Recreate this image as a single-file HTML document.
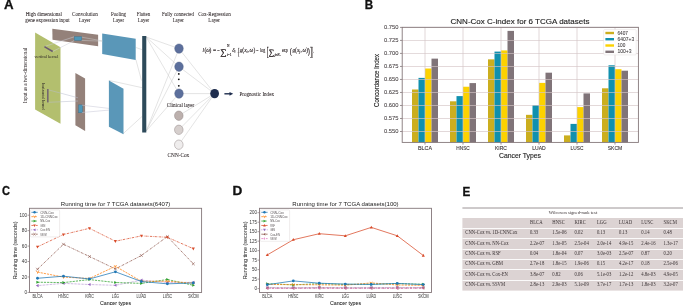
<!DOCTYPE html>
<html><head><meta charset="utf-8"><style>
html,body{margin:0;padding:0;background:#fff;}
body{width:685px;height:307px;overflow:hidden;}
svg{display:block;font-family:"Liberation Sans", sans-serif;will-change:transform;}
</style></head><body>
<svg width="685" height="307" viewBox="0 0 685 307" shape-rendering="auto">
<rect width="685" height="307" fill="#fff"/>
<text x="3.95" y="9.00" font-size="12.2" text-anchor="start" fill="#111" textLength="9.60" lengthAdjust="spacingAndGlyphs" font-weight="bold" stroke="#111" stroke-width="0.3">A</text>
<text x="364.85" y="9.00" font-size="12.2" text-anchor="start" fill="#111" textLength="8.40" lengthAdjust="spacingAndGlyphs" font-weight="bold" stroke="#111" stroke-width="0.3">B</text>
<text x="2.05" y="195.20" font-size="12.2" text-anchor="start" fill="#111" textLength="8.00" lengthAdjust="spacingAndGlyphs" font-weight="bold" stroke="#111" stroke-width="0.3">C</text>
<text x="232.45" y="195.10" font-size="12.2" text-anchor="start" fill="#111" textLength="9.80" lengthAdjust="spacingAndGlyphs" font-weight="bold" stroke="#111" stroke-width="0.3">D</text>
<text x="462.45" y="195.70" font-size="12.2" text-anchor="start" fill="#111" textLength="7.80" lengthAdjust="spacingAndGlyphs" font-weight="bold" stroke="#111" stroke-width="0.3">E</text>
<text x="43.80" y="16.00" font-size="5.6" text-anchor="middle" fill="#2a2224" stroke="#2a2224" stroke-width="0.04" font-family='"Liberation Serif", serif' textLength="36.30" lengthAdjust="spacingAndGlyphs">High dimensional</text>
<text x="47.50" y="22.20" font-size="5.6" text-anchor="middle" fill="#2a2224" stroke="#2a2224" stroke-width="0.04" font-family='"Liberation Serif", serif' textLength="44.30" lengthAdjust="spacingAndGlyphs">gene expression input</text>
<text x="85.00" y="16.00" font-size="5.6" text-anchor="middle" fill="#2a2224" stroke="#2a2224" stroke-width="0.04" font-family='"Liberation Serif", serif' textLength="25.80" lengthAdjust="spacingAndGlyphs">Convolution</text>
<text x="84.70" y="22.20" font-size="5.6" text-anchor="middle" fill="#2a2224" stroke="#2a2224" stroke-width="0.04" font-family='"Liberation Serif", serif' textLength="11.40" lengthAdjust="spacingAndGlyphs">Layer</text>
<text x="118.50" y="16.00" font-size="5.6" text-anchor="middle" fill="#2a2224" stroke="#2a2224" stroke-width="0.04" font-family='"Liberation Serif", serif' textLength="15.00" lengthAdjust="spacingAndGlyphs">Pooling</text>
<text x="118.50" y="22.20" font-size="5.6" text-anchor="middle" fill="#2a2224" stroke="#2a2224" stroke-width="0.04" font-family='"Liberation Serif", serif' textLength="11.00" lengthAdjust="spacingAndGlyphs">Layer</text>
<text x="143.50" y="16.00" font-size="5.6" text-anchor="middle" fill="#2a2224" stroke="#2a2224" stroke-width="0.04" font-family='"Liberation Serif", serif' textLength="13.30" lengthAdjust="spacingAndGlyphs">Flatten</text>
<text x="143.50" y="22.20" font-size="5.6" text-anchor="middle" fill="#2a2224" stroke="#2a2224" stroke-width="0.04" font-family='"Liberation Serif", serif' textLength="11.30" lengthAdjust="spacingAndGlyphs">Layer</text>
<text x="178.00" y="16.00" font-size="5.6" text-anchor="middle" fill="#2a2224" stroke="#2a2224" stroke-width="0.04" font-family='"Liberation Serif", serif' textLength="32.10" lengthAdjust="spacingAndGlyphs">Fully connected</text>
<text x="178.30" y="22.20" font-size="5.6" text-anchor="middle" fill="#2a2224" stroke="#2a2224" stroke-width="0.04" font-family='"Liberation Serif", serif' textLength="11.20" lengthAdjust="spacingAndGlyphs">Layer</text>
<text x="214.50" y="16.00" font-size="5.6" text-anchor="middle" fill="#2a2224" stroke="#2a2224" stroke-width="0.04" font-family='"Liberation Serif", serif' textLength="32.70" lengthAdjust="spacingAndGlyphs">Cox-Regression</text>
<text x="214.20" y="22.20" font-size="5.6" text-anchor="middle" fill="#2a2224" stroke="#2a2224" stroke-width="0.04" font-family='"Liberation Serif", serif' textLength="11.70" lengthAdjust="spacingAndGlyphs">Layer</text>
<line x1="146.20" y1="37.00" x2="179.00" y2="48.60" stroke="#c9c9c9" stroke-width="0.5"/>
<line x1="146.20" y1="131.00" x2="179.00" y2="48.60" stroke="#c9c9c9" stroke-width="0.5"/>
<line x1="146.20" y1="37.00" x2="179.00" y2="66.70" stroke="#c9c9c9" stroke-width="0.5"/>
<line x1="146.20" y1="131.00" x2="179.00" y2="66.70" stroke="#c9c9c9" stroke-width="0.5"/>
<line x1="146.20" y1="37.00" x2="179.00" y2="93.60" stroke="#c9c9c9" stroke-width="0.5"/>
<line x1="146.20" y1="131.00" x2="179.00" y2="93.60" stroke="#c9c9c9" stroke-width="0.5"/>
<line x1="179.00" y1="48.60" x2="214.60" y2="93.60" stroke="#c9c9c9" stroke-width="0.5"/>
<line x1="179.00" y1="66.70" x2="214.60" y2="93.60" stroke="#c9c9c9" stroke-width="0.5"/>
<line x1="179.00" y1="93.60" x2="214.60" y2="93.60" stroke="#c9c9c9" stroke-width="0.5"/>
<line x1="178.80" y1="115.70" x2="214.60" y2="93.60" stroke="#c9c9c9" stroke-width="0.5"/>
<line x1="178.80" y1="129.80" x2="214.60" y2="93.60" stroke="#c9c9c9" stroke-width="0.5"/>
<line x1="178.80" y1="144.70" x2="214.60" y2="93.60" stroke="#c9c9c9" stroke-width="0.5"/>
<line x1="135.90" y1="47.50" x2="142.20" y2="49.70" stroke="#c9c9c9" stroke-width="0.5"/>
<line x1="135.90" y1="59.70" x2="141.50" y2="80.50" stroke="#c9c9c9" stroke-width="0.5"/>
<line x1="108.90" y1="80.40" x2="142.20" y2="87.70" stroke="#c9c9c9" stroke-width="0.5"/>
<line x1="122.90" y1="133.90" x2="142.20" y2="116.30" stroke="#c9c9c9" stroke-width="0.5"/>
<polygon points="35.10,32.60 60.50,47.20 60.50,123.80 35.10,109.60" fill="#b3bf6e"/>
<polygon points="52.30,28.70 98.10,34.80 98.10,46.30 52.50,39.80" fill="#94817a"/>
<rect x="74.20" y="36.60" width="7.60" height="3.90" fill="#4e97b8" stroke="#3d6f88" stroke-width="0.4"/>
<polygon points="75.40,72.90 85.10,78.50 85.10,131.00 75.40,125.20" fill="#94817a"/>
<rect x="78.60" y="104.90" width="3.90" height="7.90" fill="#4e97b8" stroke="#3d6f88" stroke-width="0.4"/>
<polygon points="102.20,33.60 135.70,38.80 135.70,59.90 102.20,54.10" fill="#5a97b8"/>
<polygon points="108.90,80.50 123.50,88.70 123.50,134.20 108.90,126.80" fill="#5a97b8"/>
<rect x="142.20" y="36.00" width="4.10" height="96.50" fill="#2d4a5a"/>
<line x1="81.80" y1="37.20" x2="102.30" y2="40.90" stroke="#c9c9c9" stroke-width="0.5"/>
<line x1="81.80" y1="40.40" x2="102.30" y2="41.20" stroke="#c9c9c9" stroke-width="0.5"/>
<line x1="81.90" y1="105.20" x2="109.00" y2="108.40" stroke="#c4c4d4" stroke-width="0.5"/>
<line x1="81.90" y1="112.50" x2="109.00" y2="110.10" stroke="#c4c4d4" stroke-width="0.5"/>
<line x1="48.60" y1="89.90" x2="78.00" y2="97.80" stroke="#b8bccc" stroke-width="0.5"/>
<line x1="48.60" y1="102.30" x2="78.00" y2="101.00" stroke="#b8bccc" stroke-width="0.5"/>
<line x1="52.70" y1="51.50" x2="74.20" y2="40.60" stroke="#cfd0da" stroke-width="0.5"/>
<line x1="44.40" y1="46.60" x2="74.20" y2="36.80" stroke="#cfd0da" stroke-width="0.5"/>
<line x1="44.40" y1="46.60" x2="52.70" y2="51.50" stroke="#6a5a70" stroke-width="1.5"/>
<rect x="47.00" y="89.00" width="1.60" height="13.40" fill="#75686f"/>
<text x="46.50" y="57.60" font-size="4.2" text-anchor="middle" fill="#2a2224" font-family='"Liberation Serif", serif' textLength="24.00" lengthAdjust="spacingAndGlyphs">vertical kernel</text>
<text x="42.00" y="96.60" font-size="4.2" text-anchor="middle" fill="#2a2224" font-family='"Liberation Serif", serif' textLength="27.20" lengthAdjust="spacingAndGlyphs" transform="rotate(90 42.00 96.60)">horizontal kernel</text>
<text x="27.40" y="75.60" font-size="5.4" text-anchor="middle" fill="#2a2224" font-family='"Liberation Serif", serif' textLength="55.40" lengthAdjust="spacingAndGlyphs" transform="rotate(-90 27.40 75.60)">Input as a two-dimensional</text>
<ellipse cx="179" cy="48.6" rx="4.3" ry="4.7" fill="#5c6f9c" stroke="#4a5a80" stroke-width="0.4"/>
<ellipse cx="179" cy="66.7" rx="4.3" ry="4.7" fill="#5c6f9c" stroke="#4a5a80" stroke-width="0.4"/>
<ellipse cx="179" cy="93.6" rx="4.3" ry="4.7" fill="#5c6f9c" stroke="#4a5a80" stroke-width="0.4"/>
<circle cx="178.8" cy="73.9" r="0.9" fill="#111"/>
<circle cx="178.8" cy="79.3" r="0.9" fill="#111"/>
<circle cx="178.8" cy="85.8" r="0.9" fill="#111"/>
<text x="180.50" y="107.10" font-size="5.6" text-anchor="middle" fill="#2a2224" stroke="#2a2224" stroke-width="0.05" font-family='"Liberation Serif", serif' textLength="27.40" lengthAdjust="spacingAndGlyphs">Clinical layer</text>
<ellipse cx="178.8" cy="115.7" rx="4.3" ry="4.7" fill="#bcb0ad" stroke="#8a8080" stroke-width="0.45"/>
<ellipse cx="178.8" cy="129.8" rx="4.3" ry="4.7" fill="#d6cfcd" stroke="#8a8080" stroke-width="0.45"/>
<ellipse cx="178.8" cy="144.7" rx="4.3" ry="4.7" fill="#efeded" stroke="#8a8080" stroke-width="0.45"/>
<text x="178.40" y="156.90" font-size="5.6" text-anchor="middle" fill="#2a2224" stroke="#2a2224" stroke-width="0.05" font-family='"Liberation Serif", serif' textLength="21.70" lengthAdjust="spacingAndGlyphs">CNN-Cox</text>
<ellipse cx="214.6" cy="93.6" rx="4.4" ry="4.7" fill="#1e2d4d"/>
<line x1="224.40" y1="93.80" x2="230.80" y2="93.80" stroke="#1e2d4d" stroke-width="1.4"/>
<polygon points="229.50,91.90 233.20,93.80 229.50,95.70" fill="#1e2d4d"/>
<text x="256.70" y="95.60" font-size="5.6" text-anchor="middle" fill="#2a2224" stroke="#2a2224" stroke-width="0.05" font-family='"Liberation Serif", serif' textLength="34.50" lengthAdjust="spacingAndGlyphs">Prognostic Index</text>
<text x="202.60" y="52.20" font-size="5.4" text-anchor="start" fill="#2a2224" font-family='"Liberation Serif", serif' font-style="italic" stroke="#2a2224" stroke-width="0.12">l</text>
<text x="204.40" y="52.20" font-size="5.4" text-anchor="start" fill="#2a2224" font-family='"Liberation Serif", serif' stroke="#2a2224" stroke-width="0.12">(</text>
<text x="206.30" y="52.20" font-size="5.4" text-anchor="start" fill="#2a2224" font-family='"Liberation Serif", serif' font-style="italic" stroke="#2a2224" stroke-width="0.12">ω</text>
<text x="209.60" y="52.20" font-size="5.4" text-anchor="start" fill="#2a2224" font-family='"Liberation Serif", serif' stroke="#2a2224" stroke-width="0.12">)</text>
<text x="213.10" y="52.20" font-size="5.4" text-anchor="start" fill="#2a2224" font-family='"Liberation Serif", serif' textLength="3.10" lengthAdjust="spacingAndGlyphs" stroke="#2a2224" stroke-width="0.12">=</text>
<text x="217.10" y="52.20" font-size="5.4" text-anchor="start" fill="#2a2224" font-family='"Liberation Serif", serif' textLength="2.60" lengthAdjust="spacingAndGlyphs" stroke="#2a2224" stroke-width="0.12">−</text>
<text x="220.40" y="54.90" font-size="8.6" text-anchor="start" fill="#2a2224" font-family='"Liberation Serif", serif' textLength="6.30" lengthAdjust="spacingAndGlyphs" stroke="#2a2224" stroke-width="0.3">∑</text>
<text x="226.90" y="47.40" font-size="3.36" text-anchor="start" fill="#2a2224" font-family='"Liberation Serif", serif' stroke="#2a2224" stroke-width="0.12">N</text>
<text x="226.90" y="56.10" font-size="3.36" text-anchor="start" fill="#2a2224" font-family='"Liberation Serif", serif' textLength="4.60" lengthAdjust="spacingAndGlyphs" stroke="#2a2224" stroke-width="0.12">i=1</text>
<text x="232.30" y="52.20" font-size="5.2" text-anchor="start" fill="#2a2224" font-family='"Liberation Serif", serif' font-style="italic" stroke="#2a2224" stroke-width="0.12">δ</text>
<text x="234.50" y="53.20" font-size="3.36" text-anchor="start" fill="#2a2224" font-family='"Liberation Serif", serif' font-style="italic" stroke="#2a2224" stroke-width="0.12">i</text>
<text x="237.40" y="55.20" font-size="10.0" text-anchor="start" fill="#2a2224" font-family='"Liberation Serif", serif' textLength="2.00" lengthAdjust="spacingAndGlyphs" stroke="#2a2224" stroke-width="0.3">{</text>
<text x="239.80" y="52.20" font-size="5.4" text-anchor="start" fill="#2a2224" font-family='"Liberation Serif", serif' font-style="italic" stroke="#2a2224" stroke-width="0.12">g</text>
<text x="242.30" y="52.20" font-size="5.4" text-anchor="start" fill="#2a2224" font-family='"Liberation Serif", serif' stroke="#2a2224" stroke-width="0.12">(</text>
<text x="244.20" y="52.20" font-size="5.4" text-anchor="start" fill="#2a2224" font-family='"Liberation Serif", serif' font-style="italic" stroke="#2a2224" stroke-width="0.12">x</text>
<text x="246.60" y="53.20" font-size="3.36" text-anchor="start" fill="#2a2224" font-family='"Liberation Serif", serif' font-style="italic" stroke="#2a2224" stroke-width="0.12">i</text>
<text x="247.60" y="52.20" font-size="5.4" text-anchor="start" fill="#2a2224" font-family='"Liberation Serif", serif' stroke="#2a2224" stroke-width="0.12">,</text>
<text x="249.60" y="52.20" font-size="5.4" text-anchor="start" fill="#2a2224" font-family='"Liberation Serif", serif' font-style="italic" stroke="#2a2224" stroke-width="0.12">ω</text>
<text x="253.40" y="52.20" font-size="5.4" text-anchor="start" fill="#2a2224" font-family='"Liberation Serif", serif' stroke="#2a2224" stroke-width="0.12">)</text>
<text x="256.00" y="52.20" font-size="5.4" text-anchor="start" fill="#2a2224" font-family='"Liberation Serif", serif' textLength="2.40" lengthAdjust="spacingAndGlyphs" stroke="#2a2224" stroke-width="0.12">−</text>
<text x="260.20" y="52.20" font-size="5.4" text-anchor="start" fill="#2a2224" font-family='"Liberation Serif", serif' textLength="5.20" lengthAdjust="spacingAndGlyphs" stroke="#2a2224" stroke-width="0.12">log</text>
<text x="266.70" y="55.60" font-size="12.0" text-anchor="start" fill="#2a2224" font-family='"Liberation Serif", serif' textLength="1.80" lengthAdjust="spacingAndGlyphs" stroke="#2a2224" stroke-width="0.3">[</text>
<text x="268.70" y="54.90" font-size="8.0" text-anchor="start" fill="#2a2224" font-family='"Liberation Serif", serif' textLength="5.40" lengthAdjust="spacingAndGlyphs" stroke="#2a2224" stroke-width="0.3">∑</text>
<text x="274.40" y="55.80" font-size="3.36" text-anchor="start" fill="#2a2224" font-family='"Liberation Serif", serif' textLength="5.20" lengthAdjust="spacingAndGlyphs" font-style="italic" stroke="#2a2224" stroke-width="0.12">jєR</text>
<text x="279.70" y="56.40" font-size="2.64" text-anchor="start" fill="#2a2224" font-family='"Liberation Serif", serif' font-style="italic" stroke="#2a2224" stroke-width="0.12">i</text>
<text x="282.00" y="52.20" font-size="5.4" text-anchor="start" fill="#2a2224" font-family='"Liberation Serif", serif' textLength="5.70" lengthAdjust="spacingAndGlyphs" stroke="#2a2224" stroke-width="0.12">exp</text>
<text x="289.90" y="54.20" font-size="8.0" text-anchor="start" fill="#2a2224" font-family='"Liberation Serif", serif' textLength="1.70" lengthAdjust="spacingAndGlyphs" stroke="#2a2224" stroke-width="0.3">(</text>
<text x="292.50" y="52.20" font-size="5.4" text-anchor="start" fill="#2a2224" font-family='"Liberation Serif", serif' font-style="italic" stroke="#2a2224" stroke-width="0.12">g</text>
<text x="295.00" y="52.20" font-size="5.4" text-anchor="start" fill="#2a2224" font-family='"Liberation Serif", serif' stroke="#2a2224" stroke-width="0.12">(</text>
<text x="296.90" y="52.20" font-size="5.4" text-anchor="start" fill="#2a2224" font-family='"Liberation Serif", serif' font-style="italic" stroke="#2a2224" stroke-width="0.12">x</text>
<text x="299.30" y="53.20" font-size="3.36" text-anchor="start" fill="#2a2224" font-family='"Liberation Serif", serif' font-style="italic" stroke="#2a2224" stroke-width="0.12">j</text>
<text x="300.40" y="52.20" font-size="5.4" text-anchor="start" fill="#2a2224" font-family='"Liberation Serif", serif' stroke="#2a2224" stroke-width="0.12">,</text>
<text x="302.40" y="52.20" font-size="5.4" text-anchor="start" fill="#2a2224" font-family='"Liberation Serif", serif' font-style="italic" stroke="#2a2224" stroke-width="0.12">ω</text>
<text x="306.20" y="52.20" font-size="5.4" text-anchor="start" fill="#2a2224" font-family='"Liberation Serif", serif' stroke="#2a2224" stroke-width="0.12">)</text>
<text x="308.00" y="54.20" font-size="8.0" text-anchor="start" fill="#2a2224" font-family='"Liberation Serif", serif' textLength="1.70" lengthAdjust="spacingAndGlyphs" stroke="#2a2224" stroke-width="0.3">)</text>
<text x="310.20" y="55.60" font-size="12.0" text-anchor="start" fill="#2a2224" font-family='"Liberation Serif", serif' textLength="1.80" lengthAdjust="spacingAndGlyphs" stroke="#2a2224" stroke-width="0.3">]</text>
<text x="312.00" y="55.60" font-size="12.0" text-anchor="start" fill="#2a2224" font-family='"Liberation Serif", serif' textLength="1.60" lengthAdjust="spacingAndGlyphs" stroke="#2a2224" stroke-width="0.3">}</text>
<rect x="412.00" y="89.50" width="6.50" height="52.90" fill="#cbae1e"/>
<rect x="418.50" y="77.89" width="6.50" height="64.51" fill="#1090ae"/>
<rect x="425.00" y="68.52" width="6.50" height="73.88" fill="#fcd200"/>
<rect x="431.50" y="58.63" width="6.50" height="83.77" fill="#807479"/>
<rect x="450.00" y="101.31" width="6.50" height="41.09" fill="#cbae1e"/>
<rect x="456.50" y="96.11" width="6.50" height="46.29" fill="#1090ae"/>
<rect x="463.00" y="86.74" width="6.50" height="55.66" fill="#fcd200"/>
<rect x="469.50" y="83.09" width="6.50" height="59.31" fill="#807479"/>
<rect x="488.00" y="59.36" width="6.50" height="83.04" fill="#cbae1e"/>
<rect x="494.50" y="51.60" width="6.50" height="90.80" fill="#1090ae"/>
<rect x="501.00" y="50.41" width="6.50" height="91.99" fill="#fcd200"/>
<rect x="507.50" y="30.89" width="6.50" height="111.51" fill="#807479"/>
<rect x="526.00" y="114.84" width="6.50" height="27.56" fill="#cbae1e"/>
<rect x="532.50" y="105.11" width="6.50" height="37.29" fill="#1090ae"/>
<rect x="539.00" y="82.89" width="6.50" height="59.51" fill="#fcd200"/>
<rect x="545.50" y="72.68" width="6.50" height="69.72" fill="#807479"/>
<rect x="564.00" y="135.40" width="6.50" height="7.00" fill="#cbae1e"/>
<rect x="570.50" y="123.90" width="6.50" height="18.50" fill="#1090ae"/>
<rect x="577.00" y="107.09" width="6.50" height="35.31" fill="#fcd200"/>
<rect x="583.50" y="93.40" width="6.50" height="49.00" fill="#807479"/>
<rect x="602.00" y="88.30" width="6.50" height="54.10" fill="#cbae1e"/>
<rect x="608.50" y="65.29" width="6.50" height="77.11" fill="#1090ae"/>
<rect x="615.00" y="69.20" width="6.50" height="73.20" fill="#fcd200"/>
<rect x="621.50" y="70.71" width="6.50" height="71.69" fill="#807479"/>
<line x1="402.20" y1="131.50" x2="638.40" y2="131.50" stroke="#d4c5c7" stroke-width="0.8" opacity="0.85"/>
<line x1="402.20" y1="118.49" x2="638.40" y2="118.49" stroke="#d4c5c7" stroke-width="0.8" opacity="0.85"/>
<line x1="402.20" y1="105.47" x2="638.40" y2="105.47" stroke="#d4c5c7" stroke-width="0.8" opacity="0.85"/>
<line x1="402.20" y1="92.46" x2="638.40" y2="92.46" stroke="#d4c5c7" stroke-width="0.8" opacity="0.85"/>
<line x1="402.20" y1="79.45" x2="638.40" y2="79.45" stroke="#d4c5c7" stroke-width="0.8" opacity="0.85"/>
<line x1="402.20" y1="66.44" x2="638.40" y2="66.44" stroke="#d4c5c7" stroke-width="0.8" opacity="0.85"/>
<line x1="402.20" y1="53.42" x2="638.40" y2="53.42" stroke="#d4c5c7" stroke-width="0.8" opacity="0.85"/>
<line x1="402.20" y1="40.41" x2="638.40" y2="40.41" stroke="#d4c5c7" stroke-width="0.8" opacity="0.85"/>
<line x1="402.20" y1="27.40" x2="638.40" y2="27.40" stroke="#d4c5c7" stroke-width="0.8" opacity="0.85"/>
<line x1="425.00" y1="27.30" x2="425.00" y2="142.40" stroke="#d4c5c7" stroke-width="0.8" opacity="0.85"/>
<line x1="463.00" y1="27.30" x2="463.00" y2="142.40" stroke="#d4c5c7" stroke-width="0.8" opacity="0.85"/>
<line x1="501.00" y1="27.30" x2="501.00" y2="142.40" stroke="#d4c5c7" stroke-width="0.8" opacity="0.85"/>
<line x1="539.00" y1="27.30" x2="539.00" y2="142.40" stroke="#d4c5c7" stroke-width="0.8" opacity="0.85"/>
<line x1="577.00" y1="27.30" x2="577.00" y2="142.40" stroke="#d4c5c7" stroke-width="0.8" opacity="0.85"/>
<line x1="615.00" y1="27.30" x2="615.00" y2="142.40" stroke="#d4c5c7" stroke-width="0.8" opacity="0.85"/>
<rect x="603.7" y="29.6" width="32.5" height="25.3" rx="1" fill="#fff" fill-opacity="0.9" stroke="#e2dcdc" stroke-width="0.5"/>
<rect x="605.40" y="31.80" width="8.60" height="2.40" fill="#cbae1e"/>
<text x="617.40" y="34.50" font-size="4.5" text-anchor="start" fill="#3e3a3c" stroke="#3e3a3c" stroke-width="0.05" textLength="10.50" lengthAdjust="spacingAndGlyphs">6407</text>
<rect x="605.40" y="38.00" width="8.60" height="2.40" fill="#1090ae"/>
<text x="617.40" y="40.70" font-size="4.5" text-anchor="start" fill="#3e3a3c" stroke="#3e3a3c" stroke-width="0.05" textLength="16.80" lengthAdjust="spacingAndGlyphs">6407+3</text>
<rect x="605.40" y="44.30" width="8.60" height="2.40" fill="#fcd200"/>
<text x="617.40" y="47.00" font-size="4.5" text-anchor="start" fill="#3e3a3c" stroke="#3e3a3c" stroke-width="0.05" textLength="7.90" lengthAdjust="spacingAndGlyphs">100</text>
<rect x="605.40" y="50.60" width="8.60" height="2.40" fill="#807479"/>
<text x="617.40" y="53.30" font-size="4.5" text-anchor="start" fill="#3e3a3c" stroke="#3e3a3c" stroke-width="0.05" textLength="14.20" lengthAdjust="spacingAndGlyphs">100+3</text>
<rect x="402.2" y="27.3" width="236.20" height="115.10" fill="none" stroke="#84777a" stroke-width="0.9"/>
<line x1="400.00" y1="131.50" x2="402.20" y2="131.50" stroke="#84777a" stroke-width="0.8"/>
<text x="398.50" y="133.45" font-size="5.5" text-anchor="end" fill="#4a4446" stroke="#4a4446" stroke-width="0.08" textLength="14.60" lengthAdjust="spacingAndGlyphs">0.550</text>
<line x1="400.00" y1="118.49" x2="402.20" y2="118.49" stroke="#84777a" stroke-width="0.8"/>
<text x="398.50" y="120.44" font-size="5.5" text-anchor="end" fill="#4a4446" stroke="#4a4446" stroke-width="0.08" textLength="14.60" lengthAdjust="spacingAndGlyphs">0.575</text>
<line x1="400.00" y1="105.47" x2="402.20" y2="105.47" stroke="#84777a" stroke-width="0.8"/>
<text x="398.50" y="107.42" font-size="5.5" text-anchor="end" fill="#4a4446" stroke="#4a4446" stroke-width="0.08" textLength="14.60" lengthAdjust="spacingAndGlyphs">0.600</text>
<line x1="400.00" y1="92.46" x2="402.20" y2="92.46" stroke="#84777a" stroke-width="0.8"/>
<text x="398.50" y="94.41" font-size="5.5" text-anchor="end" fill="#4a4446" stroke="#4a4446" stroke-width="0.08" textLength="14.60" lengthAdjust="spacingAndGlyphs">0.625</text>
<line x1="400.00" y1="79.45" x2="402.20" y2="79.45" stroke="#84777a" stroke-width="0.8"/>
<text x="398.50" y="81.40" font-size="5.5" text-anchor="end" fill="#4a4446" stroke="#4a4446" stroke-width="0.08" textLength="14.60" lengthAdjust="spacingAndGlyphs">0.650</text>
<line x1="400.00" y1="66.44" x2="402.20" y2="66.44" stroke="#84777a" stroke-width="0.8"/>
<text x="398.50" y="68.39" font-size="5.5" text-anchor="end" fill="#4a4446" stroke="#4a4446" stroke-width="0.08" textLength="14.60" lengthAdjust="spacingAndGlyphs">0.675</text>
<line x1="400.00" y1="53.42" x2="402.20" y2="53.42" stroke="#84777a" stroke-width="0.8"/>
<text x="398.50" y="55.37" font-size="5.5" text-anchor="end" fill="#4a4446" stroke="#4a4446" stroke-width="0.08" textLength="14.60" lengthAdjust="spacingAndGlyphs">0.700</text>
<line x1="400.00" y1="40.41" x2="402.20" y2="40.41" stroke="#84777a" stroke-width="0.8"/>
<text x="398.50" y="42.36" font-size="5.5" text-anchor="end" fill="#4a4446" stroke="#4a4446" stroke-width="0.08" textLength="14.60" lengthAdjust="spacingAndGlyphs">0.725</text>
<line x1="400.00" y1="27.40" x2="402.20" y2="27.40" stroke="#84777a" stroke-width="0.8"/>
<text x="398.50" y="29.35" font-size="5.5" text-anchor="end" fill="#4a4446" stroke="#4a4446" stroke-width="0.08" textLength="14.60" lengthAdjust="spacingAndGlyphs">0.750</text>
<line x1="425.00" y1="142.40" x2="425.00" y2="144.60" stroke="#84777a" stroke-width="0.8"/>
<text x="425.00" y="149.90" font-size="5.5" text-anchor="middle" fill="#3a3436" stroke="#3a3436" stroke-width="0.1" textLength="14.00" lengthAdjust="spacingAndGlyphs">BLCA</text>
<line x1="463.00" y1="142.40" x2="463.00" y2="144.60" stroke="#84777a" stroke-width="0.8"/>
<text x="463.00" y="149.90" font-size="5.5" text-anchor="middle" fill="#3a3436" stroke="#3a3436" stroke-width="0.1" textLength="13.50" lengthAdjust="spacingAndGlyphs">HNSC</text>
<line x1="501.00" y1="142.40" x2="501.00" y2="144.60" stroke="#84777a" stroke-width="0.8"/>
<text x="501.00" y="149.90" font-size="5.5" text-anchor="middle" fill="#3a3436" stroke="#3a3436" stroke-width="0.1" textLength="12.00" lengthAdjust="spacingAndGlyphs">KIRC</text>
<line x1="539.00" y1="142.40" x2="539.00" y2="144.60" stroke="#84777a" stroke-width="0.8"/>
<text x="539.00" y="149.90" font-size="5.5" text-anchor="middle" fill="#3a3436" stroke="#3a3436" stroke-width="0.1" textLength="13.50" lengthAdjust="spacingAndGlyphs">LUAD</text>
<line x1="577.00" y1="142.40" x2="577.00" y2="144.60" stroke="#84777a" stroke-width="0.8"/>
<text x="577.00" y="149.90" font-size="5.5" text-anchor="middle" fill="#3a3436" stroke="#3a3436" stroke-width="0.1" textLength="12.80" lengthAdjust="spacingAndGlyphs">LUSC</text>
<line x1="615.00" y1="142.40" x2="615.00" y2="144.60" stroke="#84777a" stroke-width="0.8"/>
<text x="615.00" y="149.90" font-size="5.5" text-anchor="middle" fill="#3a3436" stroke="#3a3436" stroke-width="0.1" textLength="14.50" lengthAdjust="spacingAndGlyphs">SKCM</text>
<text x="520.00" y="24.00" font-size="7.3" text-anchor="middle" fill="#222" stroke="#222" stroke-width="0.12" textLength="139.00" lengthAdjust="spacingAndGlyphs">CNN-Cox C-index for 6 TCGA datasets</text>
<text x="520.00" y="158.20" font-size="7.1" text-anchor="middle" fill="#222" stroke="#222" stroke-width="0.12" textLength="42.10" lengthAdjust="spacingAndGlyphs">Cancer Types</text>
<text x="379.40" y="80.50" font-size="7.1" text-anchor="middle" fill="#222" stroke="#222" stroke-width="0.12" textLength="53.00" lengthAdjust="spacingAndGlyphs" transform="rotate(-90 379.40 80.50)">Concordance Index</text>
<polyline points="37.50,269.24 63.47,244.23 89.44,256.50 115.41,268.93 141.38,255.50 167.35,236.58 193.32,263.84" fill="none" stroke="#8c564b" stroke-width="0.75" stroke-dasharray="2.2,0.9,0.6,0.9" stroke-linejoin="round"/>
<line x1="36.10" y1="267.84" x2="38.90" y2="270.64" stroke="#8c564b" stroke-width="0.6"/>
<line x1="36.10" y1="270.64" x2="38.90" y2="267.84" stroke="#8c564b" stroke-width="0.6"/>
<line x1="62.07" y1="242.83" x2="64.87" y2="245.63" stroke="#8c564b" stroke-width="0.6"/>
<line x1="62.07" y1="245.63" x2="64.87" y2="242.83" stroke="#8c564b" stroke-width="0.6"/>
<line x1="88.04" y1="255.10" x2="90.84" y2="257.90" stroke="#8c564b" stroke-width="0.6"/>
<line x1="88.04" y1="257.90" x2="90.84" y2="255.10" stroke="#8c564b" stroke-width="0.6"/>
<line x1="114.01" y1="267.53" x2="116.81" y2="270.33" stroke="#8c564b" stroke-width="0.6"/>
<line x1="114.01" y1="270.33" x2="116.81" y2="267.53" stroke="#8c564b" stroke-width="0.6"/>
<line x1="139.98" y1="254.10" x2="142.78" y2="256.90" stroke="#8c564b" stroke-width="0.6"/>
<line x1="139.98" y1="256.90" x2="142.78" y2="254.10" stroke="#8c564b" stroke-width="0.6"/>
<line x1="165.95" y1="235.18" x2="168.75" y2="237.98" stroke="#8c564b" stroke-width="0.6"/>
<line x1="165.95" y1="237.98" x2="168.75" y2="235.18" stroke="#8c564b" stroke-width="0.6"/>
<line x1="191.92" y1="262.44" x2="194.72" y2="265.24" stroke="#8c564b" stroke-width="0.6"/>
<line x1="191.92" y1="265.24" x2="194.72" y2="262.44" stroke="#8c564b" stroke-width="0.6"/>
<polyline points="37.50,246.85 63.47,234.50 89.44,228.32 115.41,241.22 141.38,235.89 167.35,237.28 193.32,248.70" fill="none" stroke="#d84b2a" stroke-width="0.75" stroke-dasharray="2.2,0.9,0.6,0.9" stroke-linejoin="round"/>
<polygon points="37.50,248.53 39.04,245.73 35.96,245.73" fill="#d84b2a"/>
<polygon points="63.47,236.18 65.01,233.38 61.93,233.38" fill="#d84b2a"/>
<polygon points="89.44,230.00 90.98,227.20 87.90,227.20" fill="#d84b2a"/>
<polygon points="115.41,242.90 116.95,240.10 113.87,240.10" fill="#d84b2a"/>
<polygon points="141.38,237.57 142.92,234.77 139.84,234.77" fill="#d84b2a"/>
<polygon points="167.35,238.96 168.89,236.16 165.81,236.16" fill="#d84b2a"/>
<polygon points="193.32,250.38 194.86,247.58 191.78,247.58" fill="#d84b2a"/>
<polyline points="37.50,285.61 63.47,283.37 89.44,284.53 115.41,285.30 141.38,280.13 167.35,282.44 193.32,282.36" fill="none" stroke="#9467bd" stroke-width="0.75" stroke-dasharray="0.6,0.8" stroke-linejoin="round"/>
<polygon points="35.82,285.61 38.62,284.07 38.62,287.15" fill="#9467bd"/>
<polygon points="61.79,283.37 64.59,281.83 64.59,284.91" fill="#9467bd"/>
<polygon points="87.76,284.53 90.56,282.99 90.56,286.07" fill="#9467bd"/>
<polygon points="113.73,285.30 116.53,283.76 116.53,286.84" fill="#9467bd"/>
<polygon points="139.70,280.13 142.50,278.59 142.50,281.67" fill="#9467bd"/>
<polygon points="165.67,282.44 168.47,280.90 168.47,283.98" fill="#9467bd"/>
<polygon points="191.64,282.36 194.44,280.82 194.44,283.90" fill="#9467bd"/>
<polyline points="37.50,282.21 63.47,282.60 89.44,279.58 115.41,282.52 141.38,283.37 167.35,279.51 193.32,285.30" fill="none" stroke="#2ca02c" stroke-width="0.75" stroke-dasharray="2.2,1" stroke-linejoin="round"/>
<polygon points="39.18,282.21 36.38,280.67 36.38,283.75" fill="#2ca02c"/>
<polygon points="65.15,282.60 62.35,281.06 62.35,284.14" fill="#2ca02c"/>
<polygon points="91.12,279.58 88.32,278.04 88.32,281.12" fill="#2ca02c"/>
<polygon points="117.09,282.52 114.29,280.98 114.29,284.06" fill="#2ca02c"/>
<polygon points="143.06,283.37 140.26,281.83 140.26,284.91" fill="#2ca02c"/>
<polygon points="169.03,279.51 166.23,277.97 166.23,281.05" fill="#2ca02c"/>
<polygon points="195.00,285.30 192.20,283.76 192.20,286.84" fill="#2ca02c"/>
<polyline points="37.50,272.10 63.47,277.11 89.44,278.50 115.41,266.31 141.38,281.28 167.35,281.28 193.32,283.14" fill="none" stroke="#ff7f0e" stroke-width="0.75" stroke-dasharray="2.2,1" stroke-linejoin="round"/>
<line x1="37.50" y1="272.10" x2="37.50" y2="273.78" stroke="#ff7f0e" stroke-width="0.6"/>
<line x1="37.50" y1="272.10" x2="35.96" y2="271.12" stroke="#ff7f0e" stroke-width="0.6"/>
<line x1="37.50" y1="272.10" x2="39.04" y2="271.12" stroke="#ff7f0e" stroke-width="0.6"/>
<line x1="63.47" y1="277.11" x2="63.47" y2="278.79" stroke="#ff7f0e" stroke-width="0.6"/>
<line x1="63.47" y1="277.11" x2="61.93" y2="276.13" stroke="#ff7f0e" stroke-width="0.6"/>
<line x1="63.47" y1="277.11" x2="65.01" y2="276.13" stroke="#ff7f0e" stroke-width="0.6"/>
<line x1="89.44" y1="278.50" x2="89.44" y2="280.18" stroke="#ff7f0e" stroke-width="0.6"/>
<line x1="89.44" y1="278.50" x2="87.90" y2="277.52" stroke="#ff7f0e" stroke-width="0.6"/>
<line x1="89.44" y1="278.50" x2="90.98" y2="277.52" stroke="#ff7f0e" stroke-width="0.6"/>
<line x1="115.41" y1="266.31" x2="115.41" y2="267.99" stroke="#ff7f0e" stroke-width="0.6"/>
<line x1="115.41" y1="266.31" x2="113.87" y2="265.33" stroke="#ff7f0e" stroke-width="0.6"/>
<line x1="115.41" y1="266.31" x2="116.95" y2="265.33" stroke="#ff7f0e" stroke-width="0.6"/>
<line x1="141.38" y1="281.28" x2="141.38" y2="282.96" stroke="#ff7f0e" stroke-width="0.6"/>
<line x1="141.38" y1="281.28" x2="139.84" y2="280.30" stroke="#ff7f0e" stroke-width="0.6"/>
<line x1="141.38" y1="281.28" x2="142.92" y2="280.30" stroke="#ff7f0e" stroke-width="0.6"/>
<line x1="167.35" y1="281.28" x2="167.35" y2="282.96" stroke="#ff7f0e" stroke-width="0.6"/>
<line x1="167.35" y1="281.28" x2="165.81" y2="280.30" stroke="#ff7f0e" stroke-width="0.6"/>
<line x1="167.35" y1="281.28" x2="168.89" y2="280.30" stroke="#ff7f0e" stroke-width="0.6"/>
<line x1="193.32" y1="283.14" x2="193.32" y2="284.82" stroke="#ff7f0e" stroke-width="0.6"/>
<line x1="193.32" y1="283.14" x2="191.78" y2="282.16" stroke="#ff7f0e" stroke-width="0.6"/>
<line x1="193.32" y1="283.14" x2="194.86" y2="282.16" stroke="#ff7f0e" stroke-width="0.6"/>
<polyline points="37.50,278.27 63.47,276.19 89.44,278.97 115.41,271.79 141.38,281.51 167.35,283.83 193.32,282.98" fill="none" stroke="#1f77b4" stroke-width="0.75" stroke-linejoin="round"/>
<circle cx="37.50" cy="278.27" r="1.4" fill="#1f77b4"/>
<circle cx="63.47" cy="276.19" r="1.4" fill="#1f77b4"/>
<circle cx="89.44" cy="278.97" r="1.4" fill="#1f77b4"/>
<circle cx="115.41" cy="271.79" r="1.4" fill="#1f77b4"/>
<circle cx="141.38" cy="281.51" r="1.4" fill="#1f77b4"/>
<circle cx="167.35" cy="283.83" r="1.4" fill="#1f77b4"/>
<circle cx="193.32" cy="282.98" r="1.4" fill="#1f77b4"/>
<rect x="30.4" y="209.9" width="29.2" height="27.0" rx="0.8" fill="#fff" fill-opacity="0.85" stroke="#e0dada" stroke-width="0.5"/>
<line x1="31.40" y1="212.30" x2="37.70" y2="212.30" stroke="#1f77b4" stroke-width="0.75"/>
<circle cx="34.55" cy="212.30" r="1.2" fill="#1f77b4"/>
<text x="40.30" y="213.70" font-size="4.0" text-anchor="start" fill="#5a5456" textLength="13.60" lengthAdjust="spacingAndGlyphs">CNN-Cox</text>
<line x1="31.40" y1="216.68" x2="37.70" y2="216.68" stroke="#ff7f0e" stroke-width="0.75" stroke-dasharray="2.2,1"/>
<line x1="34.55" y1="216.68" x2="34.55" y2="218.12" stroke="#ff7f0e" stroke-width="0.6"/>
<line x1="34.55" y1="216.68" x2="33.23" y2="215.84" stroke="#ff7f0e" stroke-width="0.6"/>
<line x1="34.55" y1="216.68" x2="35.87" y2="215.84" stroke="#ff7f0e" stroke-width="0.6"/>
<text x="40.30" y="218.08" font-size="4.0" text-anchor="start" fill="#5a5456" textLength="17.40" lengthAdjust="spacingAndGlyphs">1D-CNNCox</text>
<line x1="31.40" y1="221.06" x2="37.70" y2="221.06" stroke="#2ca02c" stroke-width="0.75" stroke-dasharray="2.2,1"/>
<polygon points="35.99,221.06 33.59,219.74 33.59,222.38" fill="#2ca02c"/>
<text x="40.30" y="222.46" font-size="4.0" text-anchor="start" fill="#5a5456" textLength="9.72" lengthAdjust="spacingAndGlyphs">NN-Cox</text>
<line x1="31.40" y1="225.44" x2="37.70" y2="225.44" stroke="#d84b2a" stroke-width="0.75" stroke-dasharray="2.2,0.9,0.6,0.9"/>
<polygon points="34.55,226.88 35.87,224.48 33.23,224.48" fill="#d84b2a"/>
<text x="40.30" y="226.84" font-size="4.0" text-anchor="start" fill="#5a5456" textLength="4.86" lengthAdjust="spacingAndGlyphs">GBM</text>
<line x1="31.40" y1="229.82" x2="37.70" y2="229.82" stroke="#9467bd" stroke-width="0.75" stroke-dasharray="0.6,0.8"/>
<polygon points="33.11,229.82 35.51,228.50 35.51,231.14" fill="#9467bd"/>
<text x="40.30" y="231.22" font-size="4.0" text-anchor="start" fill="#5a5456" textLength="9.72" lengthAdjust="spacingAndGlyphs">Cox EN</text>
<line x1="31.40" y1="234.20" x2="37.70" y2="234.20" stroke="#8c564b" stroke-width="0.75" stroke-dasharray="2.2,0.9,0.6,0.9"/>
<line x1="33.35" y1="233.00" x2="35.75" y2="235.40" stroke="#8c564b" stroke-width="0.6"/>
<line x1="33.35" y1="235.40" x2="35.75" y2="233.00" stroke="#8c564b" stroke-width="0.6"/>
<text x="40.30" y="235.60" font-size="4.0" text-anchor="start" fill="#5a5456" textLength="6.48" lengthAdjust="spacingAndGlyphs">SSVM</text>
<rect x="29.5" y="208.3" width="172.10" height="84.20" fill="none" stroke="#84777a" stroke-width="0.9"/>
<line x1="27.50" y1="292.40" x2="29.50" y2="292.40" stroke="#84777a" stroke-width="0.7"/>
<text x="27.00" y="294.00" font-size="4.7" text-anchor="end" fill="#333" textLength="2.60" lengthAdjust="spacingAndGlyphs">0</text>
<line x1="27.50" y1="276.96" x2="29.50" y2="276.96" stroke="#84777a" stroke-width="0.7"/>
<text x="27.00" y="278.56" font-size="4.7" text-anchor="end" fill="#333" textLength="5.20" lengthAdjust="spacingAndGlyphs">20</text>
<line x1="27.50" y1="261.52" x2="29.50" y2="261.52" stroke="#84777a" stroke-width="0.7"/>
<text x="27.00" y="263.12" font-size="4.7" text-anchor="end" fill="#333" textLength="5.20" lengthAdjust="spacingAndGlyphs">40</text>
<line x1="27.50" y1="246.08" x2="29.50" y2="246.08" stroke="#84777a" stroke-width="0.7"/>
<text x="27.00" y="247.68" font-size="4.7" text-anchor="end" fill="#333" textLength="5.20" lengthAdjust="spacingAndGlyphs">60</text>
<line x1="27.50" y1="230.64" x2="29.50" y2="230.64" stroke="#84777a" stroke-width="0.7"/>
<text x="27.00" y="232.24" font-size="4.7" text-anchor="end" fill="#333" textLength="5.20" lengthAdjust="spacingAndGlyphs">80</text>
<line x1="27.50" y1="215.20" x2="29.50" y2="215.20" stroke="#84777a" stroke-width="0.7"/>
<text x="27.00" y="216.80" font-size="4.7" text-anchor="end" fill="#333" textLength="7.60" lengthAdjust="spacingAndGlyphs">100</text>
<line x1="37.50" y1="292.50" x2="37.50" y2="294.50" stroke="#84777a" stroke-width="0.7"/>
<text x="37.50" y="297.90" font-size="4.9" text-anchor="middle" fill="#444" stroke="#444" stroke-width="0.05" textLength="10.00" lengthAdjust="spacingAndGlyphs">BLCA</text>
<line x1="63.47" y1="292.50" x2="63.47" y2="294.50" stroke="#84777a" stroke-width="0.7"/>
<text x="63.47" y="297.90" font-size="4.9" text-anchor="middle" fill="#444" stroke="#444" stroke-width="0.05" textLength="10.30" lengthAdjust="spacingAndGlyphs">HNSC</text>
<line x1="89.44" y1="292.50" x2="89.44" y2="294.50" stroke="#84777a" stroke-width="0.7"/>
<text x="89.44" y="297.90" font-size="4.9" text-anchor="middle" fill="#444" stroke="#444" stroke-width="0.05" textLength="8.60" lengthAdjust="spacingAndGlyphs">KIRC</text>
<line x1="115.41" y1="292.50" x2="115.41" y2="294.50" stroke="#84777a" stroke-width="0.7"/>
<text x="115.41" y="297.90" font-size="4.9" text-anchor="middle" fill="#444" stroke="#444" stroke-width="0.05" textLength="7.30" lengthAdjust="spacingAndGlyphs">LGG</text>
<line x1="141.38" y1="292.50" x2="141.38" y2="294.50" stroke="#84777a" stroke-width="0.7"/>
<text x="141.38" y="297.90" font-size="4.9" text-anchor="middle" fill="#444" stroke="#444" stroke-width="0.05" textLength="9.80" lengthAdjust="spacingAndGlyphs">LUAD</text>
<line x1="167.35" y1="292.50" x2="167.35" y2="294.50" stroke="#84777a" stroke-width="0.7"/>
<text x="167.35" y="297.90" font-size="4.9" text-anchor="middle" fill="#444" stroke="#444" stroke-width="0.05" textLength="9.30" lengthAdjust="spacingAndGlyphs">LUSC</text>
<line x1="193.32" y1="292.50" x2="193.32" y2="294.50" stroke="#84777a" stroke-width="0.7"/>
<text x="193.32" y="297.90" font-size="4.9" text-anchor="middle" fill="#444" stroke="#444" stroke-width="0.05" textLength="10.80" lengthAdjust="spacingAndGlyphs">SKCM</text>
<text x="115.55" y="206.00" font-size="6.0" text-anchor="middle" fill="#222" textLength="109.50" lengthAdjust="spacingAndGlyphs">Running time for 7 TCGA datasets(6407)</text>
<text x="115.55" y="304.60" font-size="5.6" text-anchor="middle" fill="#222" stroke="#222" stroke-width="0.06" textLength="31.20" lengthAdjust="spacingAndGlyphs">Cancer types</text>
<text x="17.50" y="250.40" font-size="5.6" text-anchor="middle" fill="#2a2a2a" stroke="#2a2a2a" stroke-width="0.03" textLength="57.90" lengthAdjust="spacingAndGlyphs" transform="rotate(-90 17.50 250.40)">Running time (seconds)</text>
<polyline points="267.30,287.54 293.30,287.61 319.30,287.46 345.30,287.61 371.30,287.61 397.30,287.46 423.30,287.50" fill="none" stroke="#9467bd" stroke-width="0.75" stroke-dasharray="0.6,0.8" stroke-linejoin="round"/>
<polygon points="267.30,289.22 268.84,286.42 265.76,286.42" fill="#9467bd"/>
<polygon points="293.30,289.29 294.84,286.49 291.76,286.49" fill="#9467bd"/>
<polygon points="319.30,289.14 320.84,286.34 317.76,286.34" fill="#9467bd"/>
<polygon points="345.30,289.29 346.84,286.49 343.76,286.49" fill="#9467bd"/>
<polygon points="371.30,289.29 372.84,286.49 369.76,286.49" fill="#9467bd"/>
<polygon points="397.30,289.14 398.84,286.34 395.76,286.34" fill="#9467bd"/>
<polygon points="423.30,289.18 424.84,286.38 421.76,286.38" fill="#9467bd"/>
<polyline points="267.30,288.14 293.30,288.22 319.30,287.99 345.30,288.14 371.30,288.11 397.30,288.18 423.30,287.99" fill="none" stroke="#8c564b" stroke-width="0.75" stroke-dasharray="2.2,0.9,0.6,0.9" stroke-linejoin="round"/>
<polygon points="265.62,288.14 268.42,286.60 268.42,289.68" fill="#8c564b"/>
<polygon points="291.62,288.22 294.42,286.68 294.42,289.76" fill="#8c564b"/>
<polygon points="317.62,287.99 320.42,286.45 320.42,289.53" fill="#8c564b"/>
<polygon points="343.62,288.14 346.42,286.60 346.42,289.68" fill="#8c564b"/>
<polygon points="369.62,288.11 372.42,286.57 372.42,289.65" fill="#8c564b"/>
<polygon points="395.62,288.18 398.42,286.64 398.42,289.72" fill="#8c564b"/>
<polygon points="421.62,287.99 424.42,286.45 424.42,289.53" fill="#8c564b"/>
<polyline points="267.30,288.41 293.30,288.37 319.30,288.30 345.30,288.37 371.30,288.33 397.30,288.37 423.30,288.26" fill="none" stroke="#e377c2" stroke-width="0.75" stroke-dasharray="2.2,0.9,0.6,0.9" stroke-linejoin="round"/>
<line x1="267.30" y1="287.01" x2="267.30" y2="289.81" stroke="#e377c2" stroke-width="0.6"/>
<line x1="293.30" y1="286.97" x2="293.30" y2="289.77" stroke="#e377c2" stroke-width="0.6"/>
<line x1="319.30" y1="286.90" x2="319.30" y2="289.70" stroke="#e377c2" stroke-width="0.6"/>
<line x1="345.30" y1="286.97" x2="345.30" y2="289.77" stroke="#e377c2" stroke-width="0.6"/>
<line x1="371.30" y1="286.93" x2="371.30" y2="289.73" stroke="#e377c2" stroke-width="0.6"/>
<line x1="397.30" y1="286.97" x2="397.30" y2="289.77" stroke="#e377c2" stroke-width="0.6"/>
<line x1="423.30" y1="286.86" x2="423.30" y2="289.66" stroke="#e377c2" stroke-width="0.6"/>
<polyline points="267.30,283.67 293.30,284.88 319.30,283.67 345.30,284.43 371.30,284.20 397.30,283.67 423.30,284.20" fill="none" stroke="#2ca02c" stroke-width="0.75" stroke-dasharray="2.2,1" stroke-linejoin="round"/>
<polygon points="268.98,283.67 266.18,282.13 266.18,285.21" fill="#2ca02c"/>
<polygon points="294.98,284.88 292.18,283.34 292.18,286.42" fill="#2ca02c"/>
<polygon points="320.98,283.67 318.18,282.13 318.18,285.21" fill="#2ca02c"/>
<polygon points="346.98,284.43 344.18,282.89 344.18,285.97" fill="#2ca02c"/>
<polygon points="372.98,284.20 370.18,282.66 370.18,285.74" fill="#2ca02c"/>
<polygon points="398.98,283.67 396.18,282.13 396.18,285.21" fill="#2ca02c"/>
<polygon points="424.98,284.20 422.18,282.66 422.18,285.74" fill="#2ca02c"/>
<polyline points="267.30,284.50 293.30,284.62 319.30,284.81 345.30,285.18 371.30,282.91 397.30,284.99 423.30,285.37" fill="none" stroke="#ff7f0e" stroke-width="0.75" stroke-dasharray="2.2,1" stroke-linejoin="round"/>
<line x1="267.30" y1="284.50" x2="267.30" y2="286.18" stroke="#ff7f0e" stroke-width="0.6"/>
<line x1="267.30" y1="284.50" x2="265.76" y2="283.52" stroke="#ff7f0e" stroke-width="0.6"/>
<line x1="267.30" y1="284.50" x2="268.84" y2="283.52" stroke="#ff7f0e" stroke-width="0.6"/>
<line x1="293.30" y1="284.62" x2="293.30" y2="286.30" stroke="#ff7f0e" stroke-width="0.6"/>
<line x1="293.30" y1="284.62" x2="291.76" y2="283.64" stroke="#ff7f0e" stroke-width="0.6"/>
<line x1="293.30" y1="284.62" x2="294.84" y2="283.64" stroke="#ff7f0e" stroke-width="0.6"/>
<line x1="319.30" y1="284.81" x2="319.30" y2="286.49" stroke="#ff7f0e" stroke-width="0.6"/>
<line x1="319.30" y1="284.81" x2="317.76" y2="283.82" stroke="#ff7f0e" stroke-width="0.6"/>
<line x1="319.30" y1="284.81" x2="320.84" y2="283.82" stroke="#ff7f0e" stroke-width="0.6"/>
<line x1="345.30" y1="285.18" x2="345.30" y2="286.86" stroke="#ff7f0e" stroke-width="0.6"/>
<line x1="345.30" y1="285.18" x2="343.76" y2="284.20" stroke="#ff7f0e" stroke-width="0.6"/>
<line x1="345.30" y1="285.18" x2="346.84" y2="284.20" stroke="#ff7f0e" stroke-width="0.6"/>
<line x1="371.30" y1="282.91" x2="371.30" y2="284.59" stroke="#ff7f0e" stroke-width="0.6"/>
<line x1="371.30" y1="282.91" x2="369.76" y2="281.93" stroke="#ff7f0e" stroke-width="0.6"/>
<line x1="371.30" y1="282.91" x2="372.84" y2="281.93" stroke="#ff7f0e" stroke-width="0.6"/>
<line x1="397.30" y1="284.99" x2="397.30" y2="286.67" stroke="#ff7f0e" stroke-width="0.6"/>
<line x1="397.30" y1="284.99" x2="395.76" y2="284.01" stroke="#ff7f0e" stroke-width="0.6"/>
<line x1="397.30" y1="284.99" x2="398.84" y2="284.01" stroke="#ff7f0e" stroke-width="0.6"/>
<line x1="423.30" y1="285.37" x2="423.30" y2="287.05" stroke="#ff7f0e" stroke-width="0.6"/>
<line x1="423.30" y1="285.37" x2="421.76" y2="284.39" stroke="#ff7f0e" stroke-width="0.6"/>
<line x1="423.30" y1="285.37" x2="424.84" y2="284.39" stroke="#ff7f0e" stroke-width="0.6"/>
<polyline points="267.30,284.69 293.30,280.90 319.30,283.21 345.30,284.08 371.30,284.43 397.30,283.40 423.30,284.58" fill="none" stroke="#1f77b4" stroke-width="0.75" stroke-linejoin="round"/>
<circle cx="267.30" cy="284.69" r="1.4" fill="#1f77b4"/>
<circle cx="293.30" cy="280.90" r="1.4" fill="#1f77b4"/>
<circle cx="319.30" cy="283.21" r="1.4" fill="#1f77b4"/>
<circle cx="345.30" cy="284.08" r="1.4" fill="#1f77b4"/>
<circle cx="371.30" cy="284.43" r="1.4" fill="#1f77b4"/>
<circle cx="397.30" cy="283.40" r="1.4" fill="#1f77b4"/>
<circle cx="423.30" cy="284.58" r="1.4" fill="#1f77b4"/>
<polyline points="267.30,254.90 293.30,239.72 319.30,233.69 345.30,235.81 371.30,227.39 397.30,235.81 423.30,255.51" fill="none" stroke="#d84b2a" stroke-width="0.75" stroke-linejoin="round"/>
<polygon points="267.30,253.22 268.84,256.02 265.76,256.02" fill="#d84b2a"/>
<polygon points="293.30,238.04 294.84,240.84 291.76,240.84" fill="#d84b2a"/>
<polygon points="319.30,232.01 320.84,234.81 317.76,234.81" fill="#d84b2a"/>
<polygon points="345.30,234.13 346.84,236.93 343.76,236.93" fill="#d84b2a"/>
<polygon points="371.30,225.71 372.84,228.51 369.76,228.51" fill="#d84b2a"/>
<polygon points="397.30,234.13 398.84,236.93 395.76,236.93" fill="#d84b2a"/>
<polygon points="423.30,253.83 424.84,256.63 421.76,256.63" fill="#d84b2a"/>
<rect x="260.3" y="209.9" width="29.3" height="31.4" rx="0.8" fill="#fff" fill-opacity="0.85" stroke="#e0dada" stroke-width="0.5"/>
<line x1="261.30" y1="212.30" x2="267.60" y2="212.30" stroke="#1f77b4" stroke-width="0.75"/>
<circle cx="264.45" cy="212.30" r="1.2" fill="#1f77b4"/>
<text x="270.20" y="213.70" font-size="4.0" text-anchor="start" fill="#5a5456" textLength="13.60" lengthAdjust="spacingAndGlyphs">CNN-Cox</text>
<line x1="261.30" y1="216.68" x2="267.60" y2="216.68" stroke="#ff7f0e" stroke-width="0.75" stroke-dasharray="2.2,1"/>
<line x1="264.45" y1="216.68" x2="264.45" y2="218.12" stroke="#ff7f0e" stroke-width="0.6"/>
<line x1="264.45" y1="216.68" x2="263.13" y2="215.84" stroke="#ff7f0e" stroke-width="0.6"/>
<line x1="264.45" y1="216.68" x2="265.77" y2="215.84" stroke="#ff7f0e" stroke-width="0.6"/>
<text x="270.20" y="218.08" font-size="4.0" text-anchor="start" fill="#5a5456" textLength="17.40" lengthAdjust="spacingAndGlyphs">1D-CNNCox</text>
<line x1="261.30" y1="221.06" x2="267.60" y2="221.06" stroke="#2ca02c" stroke-width="0.75" stroke-dasharray="2.2,1"/>
<polygon points="265.89,221.06 263.49,219.74 263.49,222.38" fill="#2ca02c"/>
<text x="270.20" y="222.46" font-size="4.0" text-anchor="start" fill="#5a5456" textLength="9.72" lengthAdjust="spacingAndGlyphs">NN-Cox</text>
<line x1="261.30" y1="225.44" x2="267.60" y2="225.44" stroke="#d84b2a" stroke-width="0.75"/>
<polygon points="264.45,224.00 265.77,226.40 263.13,226.40" fill="#d84b2a"/>
<text x="270.20" y="226.84" font-size="4.0" text-anchor="start" fill="#5a5456" textLength="4.86" lengthAdjust="spacingAndGlyphs">RSF</text>
<line x1="261.30" y1="229.82" x2="267.60" y2="229.82" stroke="#9467bd" stroke-width="0.75" stroke-dasharray="0.6,0.8"/>
<polygon points="264.45,231.26 265.77,228.86 263.13,228.86" fill="#9467bd"/>
<text x="270.20" y="231.22" font-size="4.0" text-anchor="start" fill="#5a5456" textLength="4.86" lengthAdjust="spacingAndGlyphs">GBM</text>
<line x1="261.30" y1="234.20" x2="267.60" y2="234.20" stroke="#8c564b" stroke-width="0.75" stroke-dasharray="2.2,0.9,0.6,0.9"/>
<polygon points="263.01,234.20 265.41,232.88 265.41,235.52" fill="#8c564b"/>
<text x="270.20" y="235.60" font-size="4.0" text-anchor="start" fill="#5a5456" textLength="9.72" lengthAdjust="spacingAndGlyphs">Cox-EN</text>
<line x1="261.30" y1="238.58" x2="267.60" y2="238.58" stroke="#e377c2" stroke-width="0.75" stroke-dasharray="2.2,0.9,0.6,0.9"/>
<line x1="264.45" y1="237.38" x2="264.45" y2="239.78" stroke="#e377c2" stroke-width="0.6"/>
<text x="270.20" y="239.98" font-size="4.0" text-anchor="start" fill="#5a5456" textLength="6.48" lengthAdjust="spacingAndGlyphs">SSVM</text>
<rect x="259.5" y="208.3" width="172.00" height="84.20" fill="none" stroke="#84777a" stroke-width="0.9"/>
<line x1="257.50" y1="288.60" x2="259.50" y2="288.60" stroke="#84777a" stroke-width="0.7"/>
<text x="257.00" y="290.20" font-size="4.7" text-anchor="end" fill="#333" textLength="2.60" lengthAdjust="spacingAndGlyphs">0</text>
<line x1="257.50" y1="279.11" x2="259.50" y2="279.11" stroke="#84777a" stroke-width="0.7"/>
<text x="257.00" y="280.71" font-size="4.7" text-anchor="end" fill="#333" textLength="5.00" lengthAdjust="spacingAndGlyphs">25</text>
<line x1="257.50" y1="269.62" x2="259.50" y2="269.62" stroke="#84777a" stroke-width="0.7"/>
<text x="257.00" y="271.23" font-size="4.7" text-anchor="end" fill="#333" textLength="5.00" lengthAdjust="spacingAndGlyphs">50</text>
<line x1="257.50" y1="260.14" x2="259.50" y2="260.14" stroke="#84777a" stroke-width="0.7"/>
<text x="257.00" y="261.74" font-size="4.7" text-anchor="end" fill="#333" textLength="5.00" lengthAdjust="spacingAndGlyphs">75</text>
<line x1="257.50" y1="250.65" x2="259.50" y2="250.65" stroke="#84777a" stroke-width="0.7"/>
<text x="257.00" y="252.25" font-size="4.7" text-anchor="end" fill="#333" textLength="7.40" lengthAdjust="spacingAndGlyphs">100</text>
<line x1="257.50" y1="241.16" x2="259.50" y2="241.16" stroke="#84777a" stroke-width="0.7"/>
<text x="257.00" y="242.76" font-size="4.7" text-anchor="end" fill="#333" textLength="7.40" lengthAdjust="spacingAndGlyphs">125</text>
<line x1="257.50" y1="231.68" x2="259.50" y2="231.68" stroke="#84777a" stroke-width="0.7"/>
<text x="257.00" y="233.28" font-size="4.7" text-anchor="end" fill="#333" textLength="7.40" lengthAdjust="spacingAndGlyphs">150</text>
<line x1="257.50" y1="222.19" x2="259.50" y2="222.19" stroke="#84777a" stroke-width="0.7"/>
<text x="257.00" y="223.79" font-size="4.7" text-anchor="end" fill="#333" textLength="7.40" lengthAdjust="spacingAndGlyphs">175</text>
<line x1="257.50" y1="212.70" x2="259.50" y2="212.70" stroke="#84777a" stroke-width="0.7"/>
<text x="257.00" y="214.30" font-size="4.7" text-anchor="end" fill="#333" textLength="7.40" lengthAdjust="spacingAndGlyphs">200</text>
<line x1="267.30" y1="292.50" x2="267.30" y2="294.50" stroke="#84777a" stroke-width="0.7"/>
<text x="267.30" y="297.90" font-size="4.9" text-anchor="middle" fill="#444" stroke="#444" stroke-width="0.05" textLength="10.00" lengthAdjust="spacingAndGlyphs">BLCA</text>
<line x1="293.30" y1="292.50" x2="293.30" y2="294.50" stroke="#84777a" stroke-width="0.7"/>
<text x="293.30" y="297.90" font-size="4.9" text-anchor="middle" fill="#444" stroke="#444" stroke-width="0.05" textLength="10.30" lengthAdjust="spacingAndGlyphs">HNSC</text>
<line x1="319.30" y1="292.50" x2="319.30" y2="294.50" stroke="#84777a" stroke-width="0.7"/>
<text x="319.30" y="297.90" font-size="4.9" text-anchor="middle" fill="#444" stroke="#444" stroke-width="0.05" textLength="8.60" lengthAdjust="spacingAndGlyphs">KIRC</text>
<line x1="345.30" y1="292.50" x2="345.30" y2="294.50" stroke="#84777a" stroke-width="0.7"/>
<text x="345.30" y="297.90" font-size="4.9" text-anchor="middle" fill="#444" stroke="#444" stroke-width="0.05" textLength="7.30" lengthAdjust="spacingAndGlyphs">LGG</text>
<line x1="371.30" y1="292.50" x2="371.30" y2="294.50" stroke="#84777a" stroke-width="0.7"/>
<text x="371.30" y="297.90" font-size="4.9" text-anchor="middle" fill="#444" stroke="#444" stroke-width="0.05" textLength="9.80" lengthAdjust="spacingAndGlyphs">LUAD</text>
<line x1="397.30" y1="292.50" x2="397.30" y2="294.50" stroke="#84777a" stroke-width="0.7"/>
<text x="397.30" y="297.90" font-size="4.9" text-anchor="middle" fill="#444" stroke="#444" stroke-width="0.05" textLength="9.30" lengthAdjust="spacingAndGlyphs">LUSC</text>
<line x1="423.30" y1="292.50" x2="423.30" y2="294.50" stroke="#84777a" stroke-width="0.7"/>
<text x="423.30" y="297.90" font-size="4.9" text-anchor="middle" fill="#444" stroke="#444" stroke-width="0.05" textLength="10.80" lengthAdjust="spacingAndGlyphs">SKCM</text>
<text x="345.50" y="206.00" font-size="6.0" text-anchor="middle" fill="#222" textLength="106.30" lengthAdjust="spacingAndGlyphs">Running time for 7 TCGA datasets(100)</text>
<text x="345.50" y="304.60" font-size="5.6" text-anchor="middle" fill="#222" stroke="#222" stroke-width="0.06" textLength="31.20" lengthAdjust="spacingAndGlyphs">Cancer types</text>
<text x="247.50" y="250.40" font-size="5.6" text-anchor="middle" fill="#2a2a2a" stroke="#2a2a2a" stroke-width="0.03" textLength="57.90" lengthAdjust="spacingAndGlyphs" transform="rotate(-90 247.50 250.40)">Running time (seconds)</text>
<line x1="462.40" y1="208.00" x2="683.00" y2="208.00" stroke="#9c9496" stroke-width="1.0"/>
<text x="573.00" y="214.30" font-size="5.0" text-anchor="middle" fill="#3a3234" font-family='"Liberation Serif", serif' textLength="48.40" lengthAdjust="spacingAndGlyphs">Wilcoxon signed-rank test</text>
<rect x="462.40" y="218.00" width="220.60" height="72.60" fill="#dcd3d3"/>
<rect x="462.40" y="228.00" width="220.60" height="1.00" fill="#fbfafa"/>
<rect x="462.40" y="238.00" width="220.60" height="1.00" fill="#fbfafa"/>
<rect x="462.40" y="249.00" width="220.60" height="1.00" fill="#fbfafa"/>
<rect x="462.40" y="259.00" width="220.60" height="1.00" fill="#fbfafa"/>
<rect x="462.40" y="269.00" width="220.60" height="1.00" fill="#fbfafa"/>
<rect x="462.40" y="280.00" width="220.60" height="1.00" fill="#fbfafa"/>
<text x="530.00" y="224.20" font-size="5.1" text-anchor="start" fill="#3a3234" font-family='"Liberation Serif", serif' textLength="12.54" lengthAdjust="spacingAndGlyphs">BLCA</text>
<text x="552.30" y="224.20" font-size="5.1" text-anchor="start" fill="#3a3234" font-family='"Liberation Serif", serif' textLength="12.54" lengthAdjust="spacingAndGlyphs">HNSC</text>
<text x="574.60" y="224.20" font-size="5.1" text-anchor="start" fill="#3a3234" font-family='"Liberation Serif", serif' textLength="11.23" lengthAdjust="spacingAndGlyphs">KIRC</text>
<text x="597.00" y="224.20" font-size="5.1" text-anchor="start" fill="#3a3234" font-family='"Liberation Serif", serif' textLength="9.66" lengthAdjust="spacingAndGlyphs">LGG</text>
<text x="619.10" y="224.20" font-size="5.1" text-anchor="start" fill="#3a3234" font-family='"Liberation Serif", serif' textLength="13.05" lengthAdjust="spacingAndGlyphs">LUAD</text>
<text x="641.30" y="224.20" font-size="5.1" text-anchor="start" fill="#3a3234" font-family='"Liberation Serif", serif' textLength="12.01" lengthAdjust="spacingAndGlyphs">LUSC</text>
<text x="663.60" y="224.20" font-size="5.1" text-anchor="start" fill="#3a3234" font-family='"Liberation Serif", serif' textLength="13.32" lengthAdjust="spacingAndGlyphs">SKCM</text>
<text x="465.30" y="234.30" font-size="5.1" text-anchor="start" fill="#3a3234" font-family='"Liberation Serif", serif' textLength="52.10" lengthAdjust="spacingAndGlyphs">CNN-Cox vs. 1D-CNNCox</text>
<text x="530.00" y="234.30" font-size="5.1" text-anchor="start" fill="#3a3234" font-family='"Liberation Serif", serif' textLength="8.22" lengthAdjust="spacingAndGlyphs">0.33</text>
<text x="552.30" y="234.30" font-size="5.1" text-anchor="start" fill="#3a3234" font-family='"Liberation Serif", serif' textLength="14.23" lengthAdjust="spacingAndGlyphs">1.5e-06</text>
<text x="574.60" y="234.30" font-size="5.1" text-anchor="start" fill="#3a3234" font-family='"Liberation Serif", serif' textLength="8.22" lengthAdjust="spacingAndGlyphs">0.02</text>
<text x="597.00" y="234.30" font-size="5.1" text-anchor="start" fill="#3a3234" font-family='"Liberation Serif", serif' textLength="8.22" lengthAdjust="spacingAndGlyphs">0.13</text>
<text x="619.10" y="234.30" font-size="5.1" text-anchor="start" fill="#3a3234" font-family='"Liberation Serif", serif' textLength="8.22" lengthAdjust="spacingAndGlyphs">0.13</text>
<text x="641.30" y="234.30" font-size="5.1" text-anchor="start" fill="#3a3234" font-family='"Liberation Serif", serif' textLength="8.22" lengthAdjust="spacingAndGlyphs">0.14</text>
<text x="663.60" y="234.30" font-size="5.1" text-anchor="start" fill="#3a3234" font-family='"Liberation Serif", serif' textLength="8.22" lengthAdjust="spacingAndGlyphs">0.48</text>
<text x="465.30" y="244.66" font-size="5.1" text-anchor="start" fill="#3a3234" font-family='"Liberation Serif", serif' textLength="43.22" lengthAdjust="spacingAndGlyphs">CNN-Cox vs. NN-Cox</text>
<text x="530.00" y="244.66" font-size="5.1" text-anchor="start" fill="#3a3234" font-family='"Liberation Serif", serif' textLength="14.23" lengthAdjust="spacingAndGlyphs">2.2e-07</text>
<text x="552.30" y="244.66" font-size="5.1" text-anchor="start" fill="#3a3234" font-family='"Liberation Serif", serif' textLength="14.23" lengthAdjust="spacingAndGlyphs">1.3e-05</text>
<text x="574.60" y="244.66" font-size="5.1" text-anchor="start" fill="#3a3234" font-family='"Liberation Serif", serif' textLength="14.23" lengthAdjust="spacingAndGlyphs">2.5e-04</text>
<text x="597.00" y="244.66" font-size="5.1" text-anchor="start" fill="#3a3234" font-family='"Liberation Serif", serif' textLength="14.23" lengthAdjust="spacingAndGlyphs">2.0e-14</text>
<text x="619.10" y="244.66" font-size="5.1" text-anchor="start" fill="#3a3234" font-family='"Liberation Serif", serif' textLength="14.23" lengthAdjust="spacingAndGlyphs">4.9e-15</text>
<text x="641.30" y="244.66" font-size="5.1" text-anchor="start" fill="#3a3234" font-family='"Liberation Serif", serif' textLength="14.23" lengthAdjust="spacingAndGlyphs">2.4e-16</text>
<text x="663.60" y="244.66" font-size="5.1" text-anchor="start" fill="#3a3234" font-family='"Liberation Serif", serif' textLength="14.23" lengthAdjust="spacingAndGlyphs">1.3e-17</text>
<text x="465.30" y="255.02" font-size="5.1" text-anchor="start" fill="#3a3234" font-family='"Liberation Serif", serif' textLength="35.39" lengthAdjust="spacingAndGlyphs">CNN-Cox vs. RSF</text>
<text x="530.00" y="255.02" font-size="5.1" text-anchor="start" fill="#3a3234" font-family='"Liberation Serif", serif' textLength="8.22" lengthAdjust="spacingAndGlyphs">0.04</text>
<text x="552.30" y="255.02" font-size="5.1" text-anchor="start" fill="#3a3234" font-family='"Liberation Serif", serif' textLength="14.23" lengthAdjust="spacingAndGlyphs">1.8e-04</text>
<text x="574.60" y="255.02" font-size="5.1" text-anchor="start" fill="#3a3234" font-family='"Liberation Serif", serif' textLength="8.22" lengthAdjust="spacingAndGlyphs">0.07</text>
<text x="597.00" y="255.02" font-size="5.1" text-anchor="start" fill="#3a3234" font-family='"Liberation Serif", serif' textLength="14.23" lengthAdjust="spacingAndGlyphs">3.0e-03</text>
<text x="619.10" y="255.02" font-size="5.1" text-anchor="start" fill="#3a3234" font-family='"Liberation Serif", serif' textLength="14.23" lengthAdjust="spacingAndGlyphs">2.5e-07</text>
<text x="641.30" y="255.02" font-size="5.1" text-anchor="start" fill="#3a3234" font-family='"Liberation Serif", serif' textLength="8.22" lengthAdjust="spacingAndGlyphs">0.87</text>
<text x="663.60" y="255.02" font-size="5.1" text-anchor="start" fill="#3a3234" font-family='"Liberation Serif", serif' textLength="8.22" lengthAdjust="spacingAndGlyphs">0.20</text>
<text x="465.30" y="265.38" font-size="5.1" text-anchor="start" fill="#3a3234" font-family='"Liberation Serif", serif' textLength="37.74" lengthAdjust="spacingAndGlyphs">CNN-Cox vs. GBM</text>
<text x="530.00" y="265.38" font-size="5.1" text-anchor="start" fill="#3a3234" font-family='"Liberation Serif", serif' textLength="14.23" lengthAdjust="spacingAndGlyphs">2.7e-18</text>
<text x="552.30" y="265.38" font-size="5.1" text-anchor="start" fill="#3a3234" font-family='"Liberation Serif", serif' textLength="14.23" lengthAdjust="spacingAndGlyphs">1.8e-15</text>
<text x="574.60" y="265.38" font-size="5.1" text-anchor="start" fill="#3a3234" font-family='"Liberation Serif", serif' textLength="14.23" lengthAdjust="spacingAndGlyphs">1.9e-06</text>
<text x="597.00" y="265.38" font-size="5.1" text-anchor="start" fill="#3a3234" font-family='"Liberation Serif", serif' textLength="8.22" lengthAdjust="spacingAndGlyphs">0.15</text>
<text x="619.10" y="265.38" font-size="5.1" text-anchor="start" fill="#3a3234" font-family='"Liberation Serif", serif' textLength="14.23" lengthAdjust="spacingAndGlyphs">4.2e-17</text>
<text x="641.30" y="265.38" font-size="5.1" text-anchor="start" fill="#3a3234" font-family='"Liberation Serif", serif' textLength="8.22" lengthAdjust="spacingAndGlyphs">0.18</text>
<text x="663.60" y="265.38" font-size="5.1" text-anchor="start" fill="#3a3234" font-family='"Liberation Serif", serif' textLength="14.23" lengthAdjust="spacingAndGlyphs">2.5e-06</text>
<text x="465.30" y="275.74" font-size="5.1" text-anchor="start" fill="#3a3234" font-family='"Liberation Serif", serif' textLength="42.69" lengthAdjust="spacingAndGlyphs">CNN-Cox vs. Cox-EN</text>
<text x="530.00" y="275.74" font-size="5.1" text-anchor="start" fill="#3a3234" font-family='"Liberation Serif", serif' textLength="14.23" lengthAdjust="spacingAndGlyphs">3.8e-07</text>
<text x="552.30" y="275.74" font-size="5.1" text-anchor="start" fill="#3a3234" font-family='"Liberation Serif", serif' textLength="8.22" lengthAdjust="spacingAndGlyphs">0.82</text>
<text x="574.60" y="275.74" font-size="5.1" text-anchor="start" fill="#3a3234" font-family='"Liberation Serif", serif' textLength="8.22" lengthAdjust="spacingAndGlyphs">0.06</text>
<text x="597.00" y="275.74" font-size="5.1" text-anchor="start" fill="#3a3234" font-family='"Liberation Serif", serif' textLength="14.23" lengthAdjust="spacingAndGlyphs">5.1e-03</text>
<text x="619.10" y="275.74" font-size="5.1" text-anchor="start" fill="#3a3234" font-family='"Liberation Serif", serif' textLength="14.23" lengthAdjust="spacingAndGlyphs">1.2e-12</text>
<text x="641.30" y="275.74" font-size="5.1" text-anchor="start" fill="#3a3234" font-family='"Liberation Serif", serif' textLength="14.23" lengthAdjust="spacingAndGlyphs">4.8e-03</text>
<text x="663.60" y="275.74" font-size="5.1" text-anchor="start" fill="#3a3234" font-family='"Liberation Serif", serif' textLength="14.23" lengthAdjust="spacingAndGlyphs">4.9e-05</text>
<text x="465.30" y="286.10" font-size="5.1" text-anchor="start" fill="#3a3234" font-family='"Liberation Serif", serif' textLength="39.83" lengthAdjust="spacingAndGlyphs">CNN-Cox vs. SSVM</text>
<text x="530.00" y="286.10" font-size="5.1" text-anchor="start" fill="#3a3234" font-family='"Liberation Serif", serif' textLength="14.23" lengthAdjust="spacingAndGlyphs">2.8e-13</text>
<text x="552.30" y="286.10" font-size="5.1" text-anchor="start" fill="#3a3234" font-family='"Liberation Serif", serif' textLength="14.23" lengthAdjust="spacingAndGlyphs">2.9e-03</text>
<text x="574.60" y="286.10" font-size="5.1" text-anchor="start" fill="#3a3234" font-family='"Liberation Serif", serif' textLength="14.23" lengthAdjust="spacingAndGlyphs">5.1e-09</text>
<text x="597.00" y="286.10" font-size="5.1" text-anchor="start" fill="#3a3234" font-family='"Liberation Serif", serif' textLength="14.23" lengthAdjust="spacingAndGlyphs">3.7e-17</text>
<text x="619.10" y="286.10" font-size="5.1" text-anchor="start" fill="#3a3234" font-family='"Liberation Serif", serif' textLength="14.23" lengthAdjust="spacingAndGlyphs">1.7e-13</text>
<text x="641.30" y="286.10" font-size="5.1" text-anchor="start" fill="#3a3234" font-family='"Liberation Serif", serif' textLength="14.23" lengthAdjust="spacingAndGlyphs">1.8e-03</text>
<text x="663.60" y="286.10" font-size="5.1" text-anchor="start" fill="#3a3234" font-family='"Liberation Serif", serif' textLength="14.23" lengthAdjust="spacingAndGlyphs">3.2e-07</text>
</svg>
</body></html>
